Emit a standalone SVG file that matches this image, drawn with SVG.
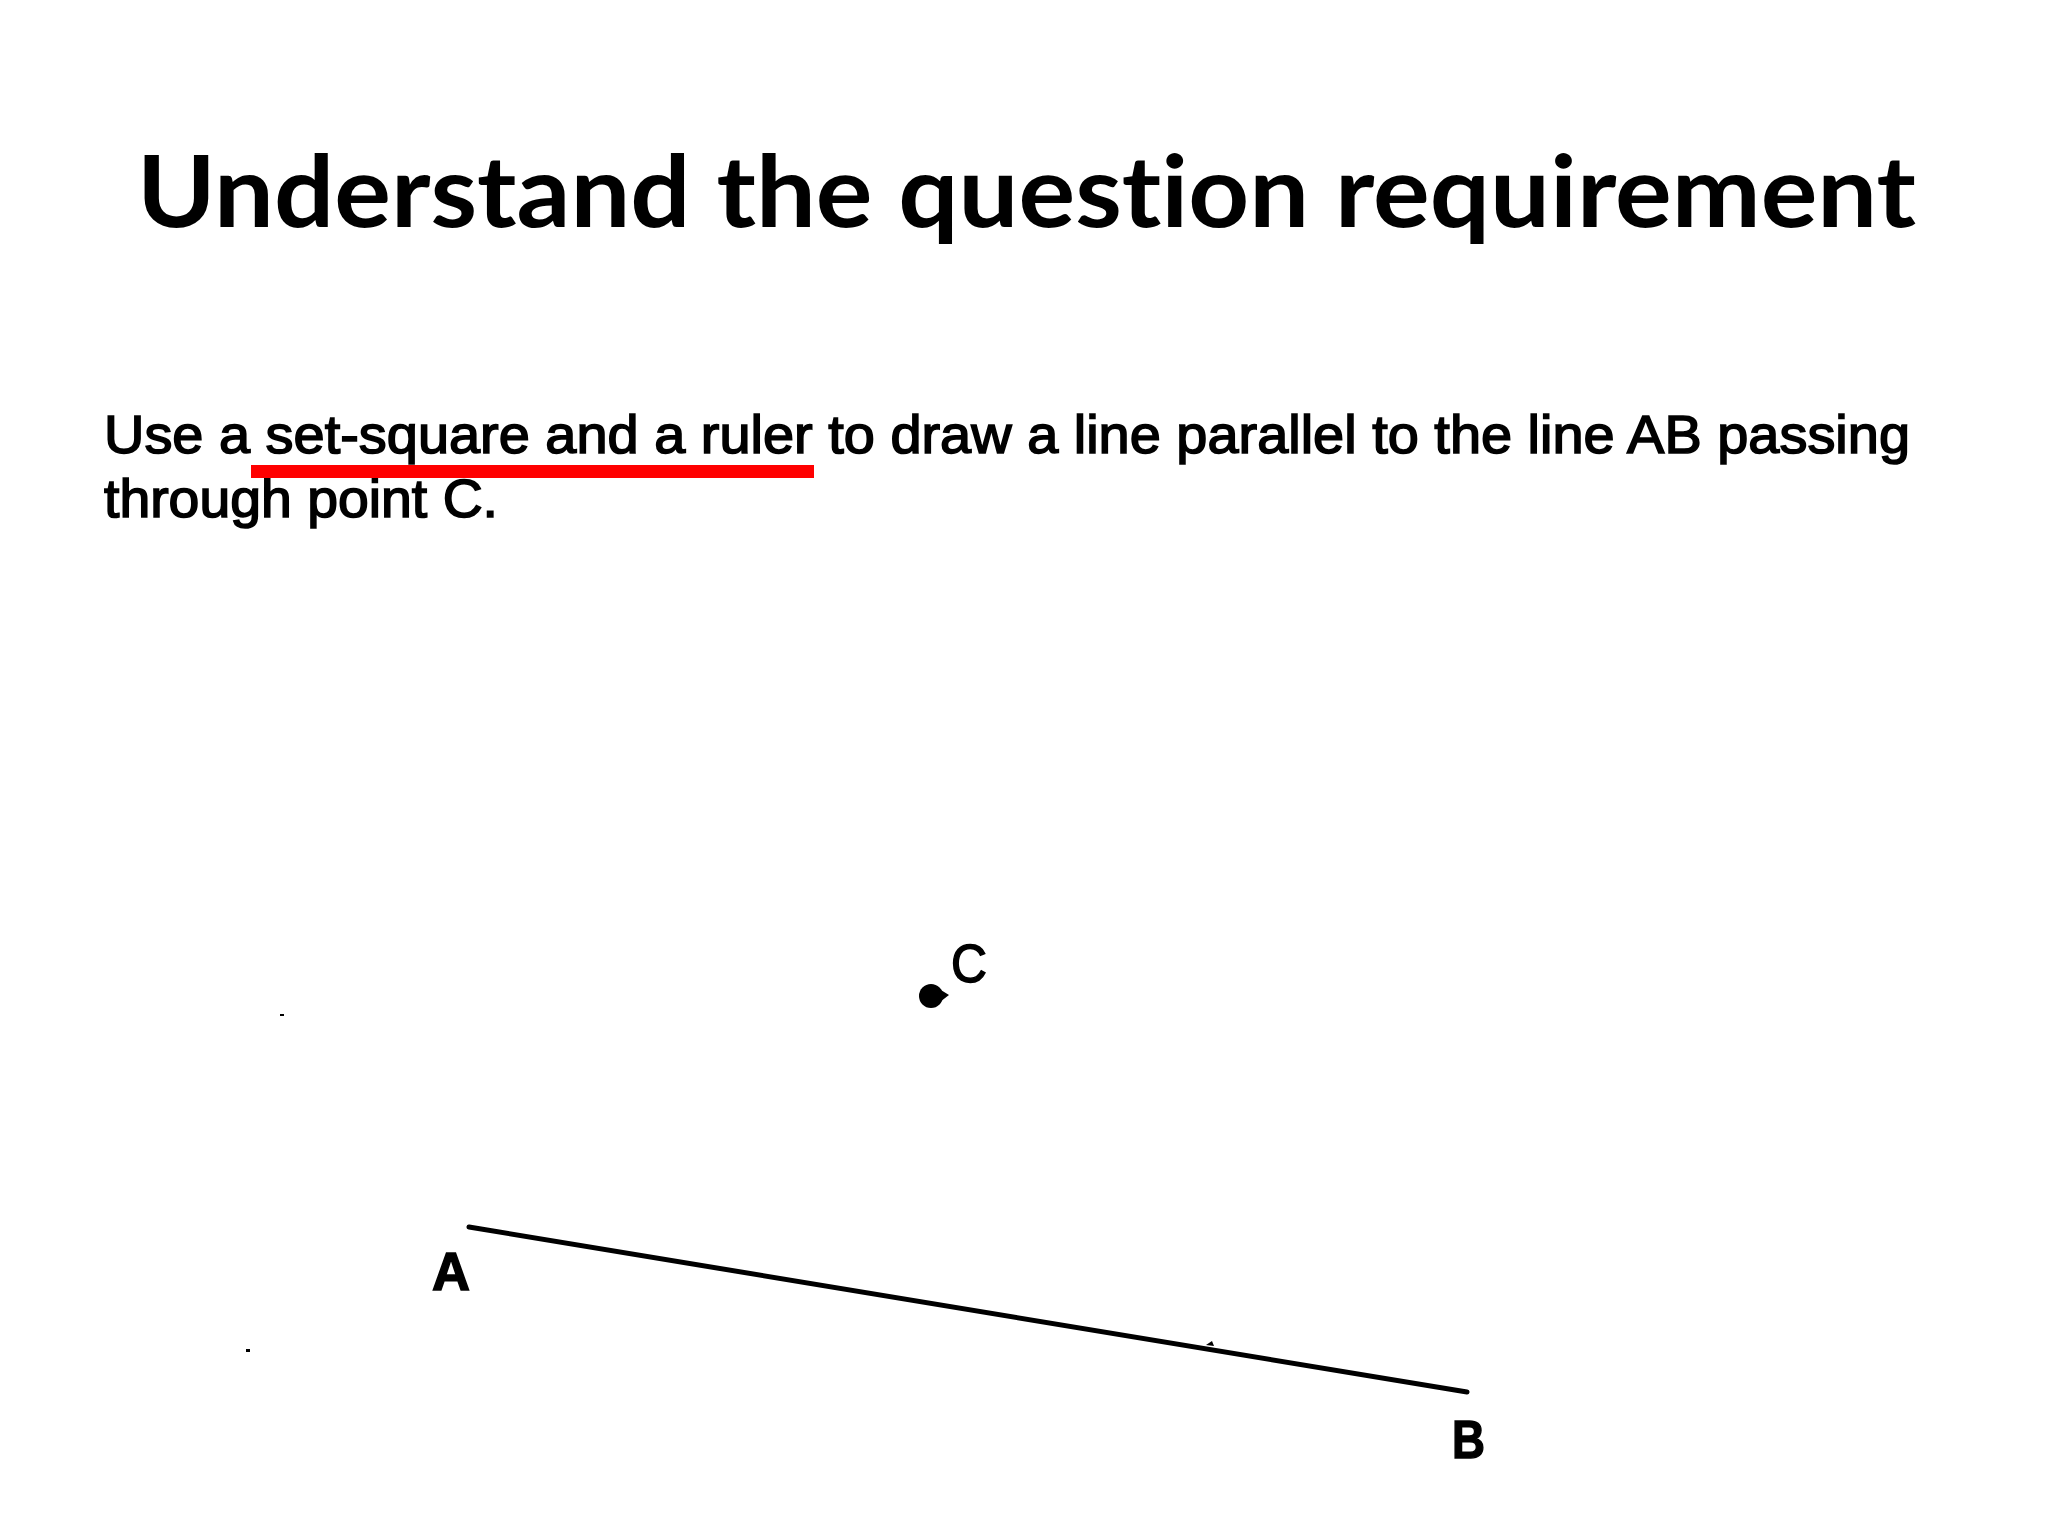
<svg xmlns="http://www.w3.org/2000/svg" width="2048" height="1536" viewBox="0 0 2048 1536">
<style>
.title{font-family:Lato,"Open Sans","Liberation Sans",sans-serif;font-weight:700;font-size:99px;fill:#000;font-variant-ligatures:none;font-feature-settings:"liga" 0,"dlig" 0}
.q{font-family:"Liberation Sans",Arial,sans-serif;font-size:54px;fill:#000;stroke:#000;stroke-width:1.6}
.lbl{font-family:"Liberation Sans",Arial,sans-serif;font-size:54px;fill:#000;stroke:#000;stroke-width:1.5}
.seg{stroke:#000;stroke-width:5;stroke-linecap:round;fill:none}
</style>
<rect x="0" y="0" width="2048" height="1536" fill="#ffffff"/>
<g id="title">
<text class="title" x="137" y="227" textLength="1779" lengthAdjust="spacingAndGlyphs">Understand the question requirement</text>
</g>
<g id="question">
<text class="q" x="104" y="453" textLength="1806" lengthAdjust="spacingAndGlyphs">Use a set-square and a ruler to draw a line parallel to the line AB passing</text>
<text class="q" x="104" y="517" textLength="394" lengthAdjust="spacingAndGlyphs">through point C.</text>
<rect id="underline" x="251" y="465" width="563" height="13" fill="#ff0000"/>
</g>
<g id="pointC">
<circle cx="931" cy="996" r="12" fill="#000"/>
<path d="M936 987 L949 995 L936 1005 Z" fill="#000"/>
<text class="lbl" x="951" y="982" textLength="36" lengthAdjust="spacingAndGlyphs">C</text>
</g>
<g id="connectors">
<line id="lineAB" class="seg" x1="469" y1="1227" x2="1467" y2="1392"/>
<path d="M1206 1345 L1212 1341 L1214 1346 Z" fill="#000"/>
</g>
<g id="pointA">
<text class="lbl" x="432" y="1290" font-weight="700" textLength="38" lengthAdjust="spacingAndGlyphs">A</text>
</g>
<g id="pointB">
<text class="lbl" x="1452" y="1458" font-weight="700" textLength="33" lengthAdjust="spacingAndGlyphs">B</text>
</g>
<g id="specks" fill="#000">
<rect x="280" y="1014" width="4" height="2"/>
<rect x="246" y="1349" width="4" height="3"/>
</g>
</svg>
